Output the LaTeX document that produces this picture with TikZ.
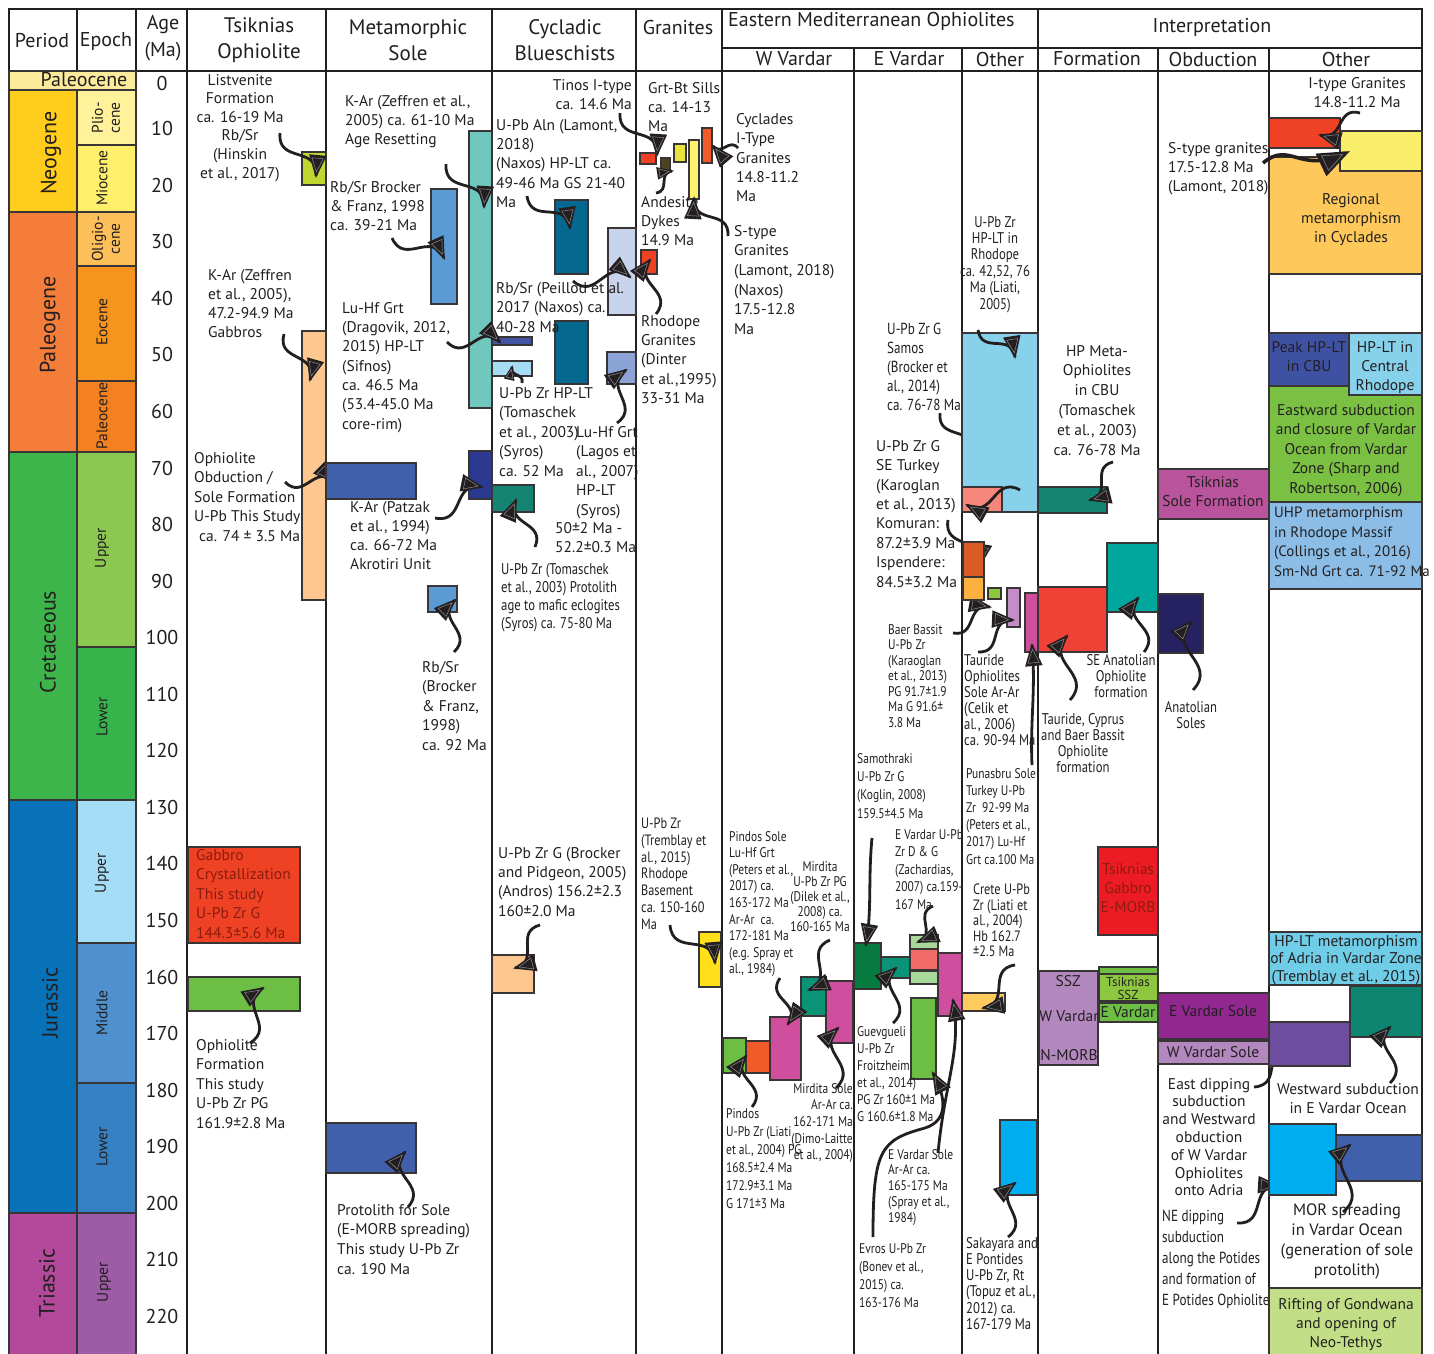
\documentclass[tikz,border=0pt]{standalone}
\usepackage{fontspec}
\setmainfont{PT Sans}
\newfontfamily\condf[FakeStretch=0.82]{PT Sans}

\definecolor{ink}{HTML}{231F20}
\definecolor{dred}{HTML}{8A1C10}
% time scale colours
\definecolor{pTop}{HTML}{FDEB9C}
\definecolor{cNeo}{HTML}{FFCD1C}
\definecolor{cPlio}{HTML}{FFF29B}
\definecolor{cMio}{HTML}{FFEF6A}
\definecolor{cPaleog}{HTML}{F47D3A}
\definecolor{cOlig}{HTML}{FDBF59}
\definecolor{cEoc}{HTML}{F7941D}
\definecolor{cPaleoc}{HTML}{F4811F}
\definecolor{cCret}{HTML}{3EB54A}
\definecolor{cCretU}{HTML}{8CC751}
\definecolor{cCretL}{HTML}{36B34A}
\definecolor{cJur}{HTML}{0872B9}
\definecolor{cJurU}{HTML}{A5DCF6}
\definecolor{cJurM}{HTML}{4F91CF}
\definecolor{cJurL}{HTML}{3581C4}
\definecolor{cTri}{HTML}{B3499B}
\definecolor{cTriU}{HTML}{9E5BA6}
% box colours
\definecolor{lime}{HTML}{BFD730}
\definecolor{peach}{HTML}{FDC890}
\definecolor{red1}{HTML}{EF4123}
\definecolor{grn}{HTML}{6CBE45}
\definecolor{teal1}{HTML}{6FC7BE}
\definecolor{sblue}{HTML}{5B9BD5}
\definecolor{navyA}{HTML}{4253A4}
\definecolor{pale}{HTML}{A6DDF5}
\definecolor{blueB}{HTML}{4060AC}
\definecolor{navyD}{HTML}{2B3990}
\definecolor{dteal}{HTML}{05698F}
\definecolor{lav}{HTML}{C7D4EC}
\definecolor{peri}{HTML}{8CA3D6}
\definecolor{seag}{HTML}{128471}
\definecolor{olive}{HTML}{4D4322}
\definecolor{ylw}{HTML}{E9E43C}
\definecolor{lylw}{HTML}{FFF36E}
\definecolor{oran}{HTML}{F15A29}
\definecolor{gold}{HTML}{FFE01B}
\definecolor{mag}{HTML}{CF4F9E}
\definecolor{jade}{HTML}{0A9475}
\definecolor{dgreen}{HTML}{077B3F}
\definecolor{lgreen}{HTML}{A8D89A}
\definecolor{salm}{HTML}{F26C6A}
\definecolor{sky}{HTML}{87D1EB}
\definecolor{salm2}{HTML}{F4877A}
\definecolor{rust}{HTML}{D95B27}
\definecolor{lorange}{HTML}{FBB040}
\definecolor{lime2}{HTML}{8DC63F}
\definecolor{lilac}{HTML}{C38EC7}
\definecolor{yorange}{HTML}{FFCB5C}
\definecolor{cyan1}{HTML}{00AEEF}
\definecolor{red2}{HTML}{EF4136}
\definecolor{turq}{HTML}{00A79D}
\definecolor{red3}{HTML}{ED1C24}
\definecolor{purp}{HTML}{B388BE}
\definecolor{mag2}{HTML}{B9539C}
\definecolor{navy3}{HTML}{262262}
\definecolor{plum}{HTML}{92278F}
\definecolor{creg}{HTML}{FEC95A}
\definecolor{yel2}{HTML}{F8EE6A}
\definecolor{blue3}{HTML}{3F51A3}
\definecolor{grn2}{HTML}{7AC143}
\definecolor{lblue}{HTML}{8BBDE6}
\definecolor{cyan2}{HTML}{6FCDE7}
\definecolor{teal2}{HTML}{0E8570}
\definecolor{purp2}{HTML}{6E4C9E}
\definecolor{lgrn}{HTML}{C2DF88}

\tikzset{
  colline/.style={line width=2.6pt, draw=ink, line cap=rect},
  blk/.style={line width=2.6pt, draw=ink!90},
  lab/.style={font=\fontsize{15.5}{#1}\selectfont, align=left, anchor=north west, inner sep=0pt, text=ink},
  lab/.default=19,
  labc/.style={lab=#1, align=center, anchor=north},
  labc/.default=19,
  cnd/.style={lab, font=\condf\fontsize{14}{#1}\selectfont},
  cnd/.default=17,
  cndc/.style={cnd=#1, align=center, anchor=north},
  cndc/.default=17,
  hdr/.style={font=\fontsize{20}{27}\selectfont, align=center, inner sep=0pt, text=ink},
  per/.style={rotate=90, font=\fontsize{22}{24}\selectfont, inner sep=0pt, text=ink},
  epo/.style={rotate=90, font=\fontsize{15.5}{17}\selectfont, align=center, inner sep=0pt, text=ink},
  wig/.style={line width=2.8pt, draw=ink},
}
\newcommand{\bx}[5]{\filldraw[blk, fill=#1] (#2,#3) rectangle (#4,#5);}
% triangular head: [size]{control x}{control y}{tip x}{tip y}
\newcommand{\hd}[5][21]{%
  \fill[ink, shift={(#4,#5)}, rotate={atan2((#3)-(#5),(#4)-(#2))}] (2pt,0pt) -- (-#1pt,{0.42*#1pt}) -- (-#1pt,{-0.42*#1pt}) -- cycle;
  \draw[black!45, line width=0.5pt, shift={(#4,#5)}, rotate={atan2((#3)-(#5),(#4)-(#2))}] ({-0.2*#1pt},0pt) -- ({-0.85*#1pt},{0.27*#1pt}) -- ({-0.85*#1pt},{-0.27*#1pt}) -- cycle;}
% wiggly pointer from (x1,y1) to (x2,y2)
\def\wigdo#1(#2,#3)(#4,#5){%
  \draw[wig] (#2,#3) .. controls ({#2+0.39*((#4-#2)-(#5-#3))},{#3+0.39*((#4-#2)+(#5-#3))}) and ({#4-0.39*((#4-#2)-(#5-#3))},{#5-0.39*((#4-#2)+(#5-#3))}) .. (#4,#5);
  \hd[#1]{#4-0.39*((#4-#2)-(#5-#3))}{#5-0.39*((#4-#2)+(#5-#3))}{#4}{#5}}
\newcommand{\wig}[3][21]{\wigdo{#1}(#2)(#3)}

\begin{document}
\begin{tikzpicture}[x=1pt,y=-1pt]
    \fill[white] (0,0) rectangle (1434,1353);
    \useasboundingbox (0,0) rectangle (1434,1353);

    % column rules
    \draw[colline] (9,9) -- (1422,9);
    \draw[colline] (9,71) -- (1422,71);
    \draw[colline] (722,48) -- (1422,48);
    \foreach \x in {9,187,326,492,636,722,1038,1422}
        \draw[colline] (\x,9) -- (\x,1360);
    \foreach \x in {77,136}
        \draw[colline] (\x,9) -- (\x,71);
    \foreach \x in {854,962,1158,1269}
        \draw[colline] (\x,48) -- (\x,1360);

    % header texts
    \node[hdr] (hper) at (42,41) {Period};
    \node[hdr] (hepo) at (106,41) {Epoch};
    \node[hdr] (hage) at (163,38) {Age\\(Ma)};
    \node[hdr, font=\fontsize{21}{26}\selectfont] (htsi) at (259,40) {Tsiknias\\Ophiolite};
    \node[hdr, font=\fontsize{21}{26}\selectfont] (hmet) at (408,40) {Metamorphic\\Sole};
    \node[hdr, font=\fontsize{21}{26}\selectfont] (hcyc) at (565,40) {Cycladic\\Blueschists};
    \node[hdr] (hgra) at (678,27) {Granites};
    \node[hdr, anchor=west] (hemo) at (728,21) {Eastern Mediterranean Ophiolites};
    \node[hdr] (hwv) at (794,59) {W Vardar};
    \node[hdr] (hev) at (909,59) {E Vardar};
    \node[hdr] (hoth) at (1000,59) {Other};
    \node[hdr] (hint) at (1212,27) {Interpretation};
    \node[hdr] (hfor) at (1097,59) {Formation};
    \node[hdr] (hobd) at (1213,59) {Obduction};
    \node[hdr] (hoth2) at (1346,59) {Other};

    % time scale
    \bx{pTop}{9}{71}{136}{90}
    \bx{cNeo}{9}{90}{77}{212}
    \bx{cPlio}{77}{90}{136}{145}
    \bx{cMio}{77}{145}{136}{212}
    \bx{cPaleog}{9}{212}{77}{452}
    \bx{cOlig}{77}{212}{136}{266}
    \bx{cEoc}{77}{266}{136}{381}
    \bx{cPaleoc}{77}{381}{136}{452}
    \bx{cCret}{9}{452}{77}{800}
    \bx{cCretU}{77}{452}{136}{647}
    \bx{cCretL}{77}{647}{136}{800}
    \bx{cJur}{9}{800}{77}{1213}
    \bx{cJurU}{77}{800}{136}{943}
    \bx{cJurM}{77}{943}{136}{1083}
    \bx{cJurL}{77}{1083}{136}{1213}
    \bx{cTri}{9}{1213}{77}{1362}
    \bx{cTriU}{77}{1213}{136}{1362}
    \node[hdr] (ptop) at (84,80) {Paleocene};
    \node[per] (pneo) at (51,153) {Neogene};
    \node[per] (ppal) at (50,325) {Paleogene};
    \node[per] (pcre) at (48,642) {Cretaceous};
    \node[per] (pjur) at (50,1003) {Jurassic};
    \node[per] (ptri) at (47,1283) {Triassic};
    \node[epo] (eplio) at (106,118) {Plio-\\cene};
    \node[epo] (emio) at (102,178) {Miocene};
    \node[epo] (eolig) at (106,239) {Oligio-\\cene};
    \node[epo] (eeoc) at (102,322) {Eocene};
    \node[epo] (epal) at (102,416) {Paleocene};
    \node[epo] (ecu) at (102,548) {Upper};
    \node[epo] (ecl) at (102,717) {Lower};
    \node[epo] (eju) at (102,873) {Upper};
    \node[epo] (ejm) at (102,1013) {Middle};
    \node[epo] (ejl) at (102,1147) {Lower};
    \node[epo] (etu) at (104,1282) {Upper};

    % age ticks
    \foreach \a in {0,10,...,220}
        \node[hdr] (age\a) at (162,{ifthenelse(\a==0,83,72+5.657*\a)}) {\a};

    % Tsiknias ophiolite
    \bx{lime}{302}{152}{326}{185}
    \bx{peach}{302}{331}{326}{600}
    \bx{red1}{188}{847}{300}{943}
    \bx{grn}{188}{977}{300}{1011}
    \node[labc=18.6] (tlist) at (240,74) {Listvenite\\Formation\\ca. 16-19 Ma\\Rb/Sr\\(Hinskin\\et al., 2017)};
    \node[lab] (tkar) at (208,269) {K-Ar (Zeffren\\et al., 2005),\\47.2-94.9 Ma\\Gabbros};
    \node[lab=19.5] (tobd) at (194,452) {Ophiolite\\Obduction /\\Sole Formation\\U-Pb This Study\\\hspace{5pt}ca. 74 ± 3.5 Ma};
    \node[lab=19.5, text=dred] (tgab) at (196,849) {Gabbro\\Crystallization\\This study\\U-Pb Zr G\\144.3±5.6 Ma};
    \node[lab=19.5] (toph) at (196,1039) {Ophiolite\\Formation\\This study\\U-Pb Zr PG\\161.9±2.8 Ma};
    \wig{280,133}{316,176}
    \wig{284,334}{310,380}
    \wig{285,482}{334,482}
    \wig{250,1043}{263,988}

    % metamorphic sole
    \bx{teal1}{469}{131}{492}{408}
    \bx{sblue}{431}{189}{457}{304}
    \bx{navyA}{492}{337}{532}{345}
    \bx{pale}{492}{361}{532}{376}
    \bx{blueB}{326}{463}{416}{499}
    \bx{navyD}{469}{451}{492}{499}
    \bx{sblue}{428}{586}{457}{612}
    \bx{blueB}{326}{1123}{416}{1173}
    \node[lab] (mkar) at (345,95) {K-Ar (Zeffren et al.,\\2005) ca. 61-10 Ma\\Age Resetting};
    \node[lab] (mrb) at (330,181) {Rb/Sr Brocker\\\& Franz, 1998\\ca. 39-21 Ma};
    \node[lab=19.3] (mluhf) at (342,302) {Lu-Hf Grt\\(Dragovik, 2012,\\2015) HP-LT\\(Sifnos)\\ca. 46.5 Ma\\(53.4-45.0 Ma\\core-rim)};
    \node[lab] (mpat) at (350,501) {K-Ar (Patzak\\et al., 1994)\\ca. 66-72 Ma\\Akrotiri Unit};
    \node[lab=19.5] (mrb2) at (422,661) {Rb/Sr\\(Brocker\\\& Franz,\\1998)\\ca. 92 Ma};
    \node[lab=19.6] (mprot) at (337,1204) {Protolith for Sole\\(E-MORB spreading)\\This study U-Pb Zr\\ca. 190 Ma};
    \wig{446,164}{484,207}
    \wig{392,238}{444,258}
    \wig{447,342}{500,342}
    \wig[13]{522,383}{512,367}
    \wig{435,518}{482,487}
    \wig{454,652}{455,600}
    \wig{408,1207}{405,1152}

    % cycladic blueschists
    \bx{dteal}{555}{200}{588}{274}
    \bx{lav}{608}{228}{636}{315}
    \bx{dteal}{555}{321}{588}{384}
    \bx{peri}{607}{352}{636}{384}
    \bx{seag}{492}{485}{534}{512}
    \bx{peach}{492}{955}{534}{993}
    \node[lab, align=right, anchor=north east] (ctin) at (632,79) {Tinos I-type\\ca. 14.6 Ma};
    \node[lab=19.3] (caln) at (496,119) {U-Pb Aln (Lamont,\\2018)\\(Naxos) HP-LT ca.\\49-46 Ma GS 21-40\\Ma};
    \node[lab=19.5] (cpei) at (496,282) {Rb/Sr (Peillod et al.\\2017 (Naxos) ca.\\40-28 Ma};
    \node[lab=19.5] (ctom) at (499,387) {U-Pb Zr HP-LT\\(Tomaschek\\et al., 2003)\\(Syros)\\ca. 52 Ma};
    \node[lab=19.5] (clag) at (576,426) {Lu-Hf Grt\\(Lagos et\\al., 2007)\\HP-LT\\(Syros)};
    \node[lab] (clag2) at (555,522) {50±2 Ma -\\52.2±0.3 Ma};
    \node[cnd, font=\condf\fontsize{15.5}{18}\selectfont] (cprot) at (501,563) {U-Pb Zr (Tomaschek\\et al., 2003) Protolith\\age to mafic eclogites\\(Syros) ca. 75-80 Ma};
    \node[lab=19.3] (cand) at (498,847) {U-Pb Zr G (Brocker\\and Pidgeon, 2005)\\(Andros) 156.2±2.3\\160±2.0 Ma};
    \wig{620,113}{657,155}
    \wig{527,196}{570,228}
    \wig{573,281}{630,277}
    \wig{617,423}{626,370}
    \wig{535,547}{516,500}
    \wig{540,925}{515,968}

    % granites
    \bx{red1}{640}{153}{656}{164}
    \bx{olive}{661}{158}{670}{170}
    \bx{ylw}{674}{144}{686}{162}
    \bx{lylw}{689}{140}{699}{199}
    \bx{oran}{702}{128}{712}{163}
    \bx{red1}{641}{250}{657}{274}
    \bx{gold}{699}{932}{721}{987}
    \node[lab] (ggrt) at (648,82) {Grt-Bt Sills\\ca. 14-13\\Ma};
    \node[lab] (gand) at (641,196) {Andesite\\Dykes\\14.9 Ma};
    \node[lab=19.3] (grho) at (641,315) {Rhodope\\Granites\\(Dinter\\et al.,1995)\\33-31 Ma};
    \node[cnd, font=\condf\fontsize{15}{16.7}\selectfont] (gtre) at (641,818) {U-Pb Zr\\(Tremblay et\\al., 2015)\\Rhodope\\Basement\\ca. 150-160\\Ma};
    \wig[15]{656,193}{672,171}
    \wig{738,148}{713,146}
    \wig{728,236}{694,198}
    \wig{656,314}{650,260}
    \wig{670,925}{715,963}

    % W Vardar
    \bx{grn}{723}{1038}{746}{1073}
    \bx{oran}{746}{1041}{770}{1073}
    \bx{mag}{770}{1017}{801}{1080}
    \bx{jade}{801}{977}{826}{1016}
    \bx{mag}{826}{981}{853}{1043}
    \node[lab=19.4] (wcyc) at (736,113) {Cyclades\\I-Type\\Granites\\14.8-11.2\\Ma};
    \node[lab=19.6] (wsty) at (734,225) {S-type\\Granites\\(Lamont, 2018)\\(Naxos)\\17.5-12.8\\Ma};
    \node[cnd=16.6] (wpsole) at (729,831) {Pindos Sole\\Lu-Hf Grt\\(Peters et al.,\\2017) ca.\\163-172 Ma\\Ar-Ar~~ca.\\172-181 Ma\\(e.g. Spray et\\al., 1984)};
    \node[cndc=15] (wmir) at (820,861) {Mirdita\\U-Pb Zr PG\\(Dilek et al.,\\2008) ca.\\160-165 Ma};
    \node[cnd=18] (wpin) at (726,1108) {Pindos\\U-Pb Zr (Liati\\et al., 2004) PG\\168.5±2.4 Ma\\172.9±3.1 Ma\\G 171±3 Ma};
    \node[cnd=16.7, align=right, anchor=north east] (wmirs) at (853,1083) {Mirdita Sole\\Ar-Ar ca.\\162-171 Ma\\(Dimo-Laitte\\et al., 2004)};
    \wig{752,1107}{746,1056}
    \wig{780,978}{788,1024}
    \wig{830,940}{809,990}
    \wig{836,1088}{838,1028}

    % E Vardar
    \bx{dgreen}{854}{943}{881}{989}
    \bx{jade}{881}{957}{910}{978}
    \bx{lgreen}{910}{935}{938}{949}
    \bx{salm}{910}{949}{938}{970}
    \bx{lgreen}{910}{971}{938}{984}
    \bx{mag}{938}{953}{962}{1016}
    \bx{grn}{911}{998}{936}{1079}
    \node[cnd, font=\condf\fontsize{16}{19}\selectfont] (esam) at (887,323) {U-Pb Zr G\\Samos\\(Brocker et\\al., 2014)\\ca. 76-78 Ma};
    \node[lab=19.4] (etur) at (876,440) {U-Pb Zr G\\SE Turkey\\(Karoglan\\et al., 2013)\\Komuran:\\87.2±3.9 Ma\\Ispendere:\\84.5±3.2 Ma};
    \node[cnd=15.5] (ebaer) at (888,624) {Baer Bassit\\U-Pb Zr\\(Karaoglan\\et al., 2013)\\PG 91.7±1.9\\Ma G 91.6±\\3.8 Ma};
    \node[cnd=18.3] (esamo) at (857,753) {Samothraki\\U-Pb Zr G\\(Koglin, 2008)\\159.5±4.5 Ma};
    \node[cnd=17.5] (ezach) at (895,829) {E Vardar U-Pb\\Zr D \& G\\(Zachardias,\\2007) ca.159-\\167 Ma};
    \node[cnd=17] (eguev) at (857,1026) {Guevgueli\\U-Pb Zr\\Froitzheim\\et al., 2014)\\PG Zr 160±1 Ma\\G 160.6±1.8 Ma};
    \node[cnd=15.8] (esole) at (888,1149) {E Vardar Sole\\Ar-Ar ca.\\165-175 Ma\\(Spray et al.,\\1984)};
    \node[cnd=18] (evros) at (859,1243) {Evros U-Pb Zr\\(Bonev et al.,\\2015) ca.\\163-176 Ma};
    \wig{940,413}{973,453}
    \wig{948,520}{980,565}
    \wig{953,633}{990,607}
    \draw[wig] (872,838) .. controls (868,880) and (872,910) .. (866,945);
    \hd{872}{910}{866}{945}
    \wig{933,906}{918,942}
    \wig{893,1023}{896,968}
    \draw[wig] (873,1237) .. controls (873,1150) and (880,1140) .. (925,1128) .. controls (950,1120) and (945,1095) .. (933,1073);
    \hd{945}{1095}{933}{1073}
    \draw[wig] (938,1153) .. controls (945,1080) and (962,1050) .. (953,1000);
    \hd{962}{1050}{953}{1000}

    % other ophiolites
    \bx{sky}{962}{333}{1038}{512}
    \bx{salm2}{962}{487}{1002}{512}
    \bx{rust}{963}{542}{984}{577}
    \bx{lorange}{963}{577}{984}{600}
    \bx{lime2}{988}{588}{1001}{599}
    \bx{lilac}{1007}{588}{1020}{627}
    \bx{mag}{1025}{593}{1038}{652}
    \bx{yorange}{962}{993}{1005}{1011}
    \bx{cyan1}{1000}{1120}{1037}{1195}
    \node[cndc, font=\condf\fontsize{15.5}{16.4}\selectfont] (orho) at (995,216) {U-Pb Zr\\HP-LT in\\Rhodope\\ca. 42,52, 76\\Ma (Liati,\\2005)};
    \node[cnd, font=\condf\fontsize{15.5}{16}\selectfont] (otau) at (964,654) {Tauride\\Ophiolites\\Sole Ar-Ar\\(Celik et\\al., 2006)\\ca. 90-94 Ma};
    \node[cnd=17.2] (opun) at (966,768) {Punasbru Sole\\Turkey U-Pb\\Zr~~92-99 Ma\\(Peters et al.,\\2017) Lu-Hf\\Grt ca.100 Ma};
    \node[cnd, font=\condf\fontsize{15}{15.5}\selectfont] (ocre) at (973,884) {Crete U-Pb\\Zr (Liati et\\al., 2004)\\Hb 162.7\\±2.5 Ma};
    \node[cnd, font=\condf\fontsize{15.5}{16.2}\selectfont] (osak) at (966,1237) {Sakayara and\\E Pontides\\U-Pb Zr, Rt\\(Topuz et al.,\\2012) ca.\\167-179 Ma};
    \wig{978,330}{1015,357}
    \wig{1020,490}{967,505}
    \wig{978,652}{1013,620}
    \draw[wig] (1032,765) .. controls (1030,720) and (1036,690) .. (1032,645);
    \hd{1036}{690}{1032}{645}
    \wig{1015,965}{983,1008}
    \wig{1008,1237}{1015,1183}

    % interpretation: formation
    \bx{seag}{1038}{487}{1107}{513}
    \bx{red2}{1038}{587}{1107}{652}
    \bx{turq}{1107}{543}{1158}{612}
    \bx{red3}{1098}{847}{1158}{935}
    \bx{purp}{1039}{971}{1098}{1065}
    \bx{grn}{1099}{967}{1158}{974}
    \bx{lime2}{1099}{974}{1158}{1001}
    \bx{grn}{1099}{1003}{1158}{1022}
    \node[labc=19.8] (fhp) at (1097,345) {HP Meta-\\Ophiolites\\in CBU\\(Tomaschek\\et al., 2003)\\ca. 76-78 Ma};
    \node[cndc, font=\condf\fontsize{15.5}{16}\selectfont] (fsea) at (1121,654) {SE Anatolian\\Ophiolite\\formation};
    \node[cndc, font=\condf\fontsize{15.5}{16}\selectfont] (ftau) at (1083,713) {Tauride, Cyprus\\and Baer Bassit\\Ophiolite\\formation};
    \node[labc, text=dred] (fgab) at (1128,863) {Tsiknias\\Gabbro\\E-MORB};
    \node[lab, anchor=center] (fssz) at (1068,981) {SSZ};
    \node[lab, anchor=center] (fwv) at (1069,1016) {W Vardar};
    \node[lab, anchor=center] (fnm) at (1069,1055) {N-MORB};
    \node[lab, anchor=center, align=center, font=\fontsize{13}{13}\selectfont] (ftsz) at (1128,988) {Tsiknias\\SSZ};
    \node[lab, anchor=center] (fev) at (1128,1012) {E Vardar};
    \wig{1113,462}{1090,500}
    \wig{1070,700}{1067,636}
    \wig{1144,652}{1138,598}

    % interpretation: obduction
    \bx{mag2}{1158}{469}{1269}{519}
    \bx{navy3}{1158}{594}{1203}{653}
    \bx{plum}{1158}{993}{1269}{1039}
    \bx{purp}{1158}{1041}{1269}{1064}
    \node[lab] (bsty) at (1168,142) {S-type granites\\17.5-12.8 Ma\\(Lamont, 2018)};
    \node[labc] (bsole) at (1213,476) {Tsiknias\\Sole Formation};
    \node[cndc, font=\condf\fontsize{15.5}{16}\selectfont] (bana) at (1191,701) {Anatolian\\Soles};
    \node[lab, anchor=center] (bev) at (1213,1011) {E Vardar Sole};
    \node[lab, anchor=center] (bwv) at (1213,1052) {W Vardar Sole};
    \node[labc=17.8] (beast) at (1209,1078) {East dipping\\subduction\\and Westward\\obduction\\of W Vardar\\Ophiolites\\onto Adria};
    \node[cnd, font=\condf\fontsize{16}{21}\selectfont] (bne) at (1162,1210) {NE dipping\\subduction\\along the Potides\\and formation of\\E Potides Ophiolites};
    \wig{1193,690}{1191,622}
    \wig{1254,1087}{1290,1045}
    \wig{1237,1223}{1279,1186}

    % interpretation: other
    \bx{red1}{1269}{118}{1340}{148}
    \bx{yel2}{1340}{131}{1422}{171}
    \filldraw[blk, fill=creg] (1269,157) -- (1340,157) -- (1340,171) -- (1422,171) -- (1422,274) -- (1269,274) -- cycle;
    \bx{grn2}{1269}{386}{1422}{502}
    \bx{blue3}{1269}{333}{1349}{386}
    \bx{sky}{1349}{333}{1422}{395}
    \bx{lblue}{1269}{502}{1422}{589}
    \bx{cyan2}{1269}{932}{1422}{985}
    \bx{teal2}{1350}{986}{1422}{1037}
    \bx{purp2}{1269}{1022}{1350}{1066}
    \bx{cyan1}{1269}{1124}{1336}{1195}
    \bx{blueB}{1336}{1135}{1422}{1181}
    \bx{lgrn}{1269}{1288}{1422}{1362}
    \node[labc] (xity) at (1357,77) {I-type Granites\\14.8-11.2 Ma};
    \node[labc] (xreg) at (1351,193) {Regional\\metamorphism\\in Cyclades};
    \node[labc] (xpeak) at (1309,341) {Peak HP-LT\\in CBU};
    \node[labc] (xcent) at (1385,341) {HP-LT in\\Central\\Rhodope};
    \node[labc=19.5] (xeast) at (1346,404) {Eastward subduction\\and closure of Vardar\\Ocean from Vardar\\Zone (Sharp and\\Robertson, 2006)};
    \node[lab=19.5, font=\fontsize{15}{19.5}\selectfont] (xuhp) at (1274,507) {UHP metamorphism\\in Rhodope Massif\\(Collings et al., 2016)\\Sm-Nd Grt ca. 71-92 Ma};
    \node[labc=17.7] (xadr) at (1346,935) {HP-LT metamorphism\\of Adria in Vardar Zone\\(Tremblay et al., 2015)};
    \node[labc] (xwest) at (1348,1083) {Westward subduction\\in E Vardar Ocean};
    \node[labc, font=\fontsize{16.5}{20}\selectfont] (xmor) at (1347,1204) {MOR spreading\\in Vardar Ocean\\(generation of sole\\protolith)};
    \node[labc] (xrift) at (1346,1298) {Rifting of Gondwana\\and opening of\\Neo-Tethys};
    \wig{1360,113}{1320,135}
    \draw[wig, line width=3.6pt] (1263,163) .. controls (1290,140) and (1300,175) .. (1345,153);
    \hd[30]{1300}{175}{1348}{152}
    \wig{1390,1083}{1390,1027}
    \wig{1343,1212}{1350,1145}
\end{tikzpicture}
\end{document}
